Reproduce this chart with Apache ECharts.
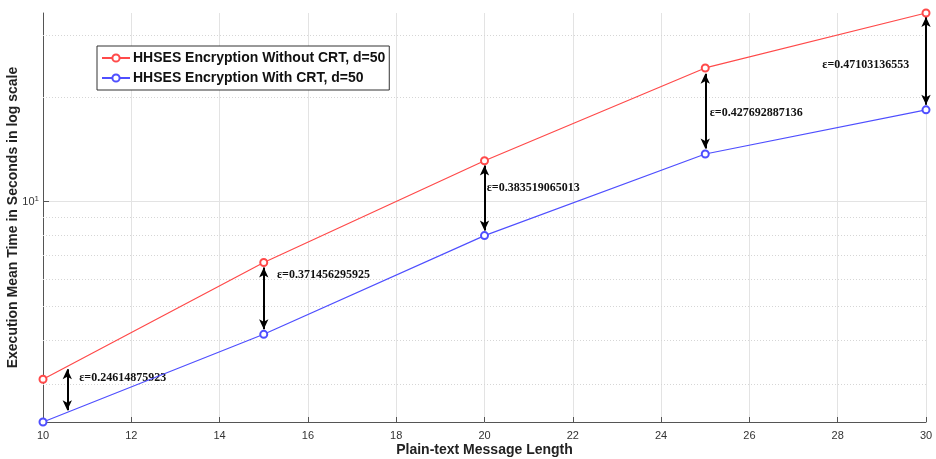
<!DOCTYPE html>
<html>
<head>
<meta charset="utf-8">
<script src="https://cdn.jsdelivr.net/npm/echarts@6/dist/echarts.min.js"></script>
<style>
	html, body { margin: 0; padding: 0; background: #fff; }
	#chart { width: 936px; height: 459px; }
</style>
</head>
<body>
<div id="chart"></div>
<script>
// message lengths
const lengths = [10, 15, 20, 25, 30];
// mean time (s)
const withoutCrt = [3.09, 6.69, 13.1, 24.2, 34.8];
const withCrt = [2.33, 4.16, 7.99, 13.7, 18.35];

// double arrows between the curves
const arrowX = [10.55, 15, 20, 25, 30];
const arrowTop = [3.3, 6.47, 12.7, 23.3, 33.9];
const arrowBottom = [2.52, 4.3, 8.26, 14.2, 18.96];

// epsilon labels
const epsText = ['ε=0.24614875923', 'ε=0.371456295925', 'ε=0.383519065013', 'ε=0.427692887136', 'ε=0.47103136553'];
const epsX = [10.82, 15.3, 20.05, 25.1, 29.62];
const epsY = [3.11, 6.18, 10.97, 18.0, 24.7];

// minor grid lines of the log axis
const minorY = [3, 4, 5, 6, 7, 8, 9, 20, 30];

const chart = echarts.init(document.getElementById('chart'));

const pair = (xs, ys) => xs.map((x, i) => [x, ys[i]]);

const option = {
	animation: false,
	backgroundColor: '#fff',
	textStyle: { fontFamily: 'Liberation Sans, Arial, sans-serif' },
	grid: { left: 43, right: 10, top: 13, bottom: 37, outerBoundsMode: 'none', containLabel: false },
	legend: {
		data: ['HHSES Encryption Without CRT, d=50', 'HHSES Encryption With CRT, d=50'],
		orient: 'vertical',
		left: 97,
		top: 46,
		padding: [5, 4, 5, 4],
		itemGap: 6,
		itemWidth: 28,
		itemHeight: 9,
		borderColor: '#333',
		borderWidth: 1,
		backgroundColor: '#fff',
		textStyle: { fontSize: 14, fontWeight: 'bold', color: '#111', padding: [0, 0, 0, -2] },
	},
	xAxis: {
		type: 'value',
		min: 10,
		max: 30,
		interval: 2,
		name: 'Plain-text Message Length',
		nameLocation: 'middle',
		nameGap: 21,
		nameMoveOverlap: false,
		nameTextStyle: { fontSize: 14, fontWeight: 'bold', color: '#222' },
		axisLine: { lineStyle: { color: '#555' } },
		axisTick: { inside: true, length: 5, lineStyle: { color: '#555' } },
		axisLabel: { fontSize: 11, color: '#333', margin: 8 },
		splitLine: { show: true, lineStyle: { color: '#e3e3e3', width: 1 } },
	},
	yAxis: {
		type: 'log',
		logBase: 10,
		min: 2.33,
		max: 34.8,
		name: 'Execution Mean Time in Seconds in log scale',
		nameLocation: 'middle',
		nameGap: 23,
		nameMoveOverlap: false,
		nameTextStyle: { fontSize: 14, fontWeight: 'bold', color: '#222' },
		axisLine: { show: true, lineStyle: { color: '#555' } },
		axisTick: { inside: true, length: 6, lineStyle: { color: '#555' } },
		axisLabel: {
			showMinLabel: false,
			showMaxLabel: false,
			margin: 4,
			formatter: (v) => (Math.abs(v - 10) < 1e-6 ? '{b|10}{s|1}' : ''),
			rich: {
				b: { fontSize: 11, color: '#333' },
				s: { fontSize: 8, color: '#333', verticalAlign: 'top', padding: [0, 0, 6, 0] },
			},
		},
		splitLine: { show: true, showMinLine: false, showMaxLine: false, lineStyle: { color: '#e3e3e3' } },
	},
	series: [
		{
			name: 'HHSES Encryption Without CRT, d=50',
			type: 'line',
			data: pair(lengths, withoutCrt),
			symbol: 'emptyCircle',
			symbolSize: 7,
			color: '#ff4a4a',
			lineStyle: { width: 1.2, color: '#ff4a4a' },
			itemStyle: { color: '#ff4a4a', borderWidth: 1 },
			z: 5,
		},
		{
			name: 'HHSES Encryption With CRT, d=50',
			type: 'line',
			data: pair(lengths, withCrt),
			symbol: 'emptyCircle',
			symbolSize: 7,
			color: '#4f4fff',
			lineStyle: { width: 1.2, color: '#4f4fff' },
			itemStyle: { color: '#4f4fff', borderWidth: 1 },
			z: 5,
		},
		{
			// dotted minor gridlines
			name: 'annot',
			type: 'line',
			data: [],
			silent: true,
			markLine: {
				silent: true,
				symbol: 'none',
				label: { show: false },
				lineStyle: { color: '#d6d6d6', type: [1, 2], width: 1 },
				data: minorY.map((v) => ({ yAxis: v })),
			},
		},
		{
			name: 'arrows',
			type: 'line',
			data: [],
			silent: true,
			z: 6,
			markLine: {
				silent: true,
				symbol: ['arrow', 'arrow'],
				symbolSize: [7, 10],
				label: { show: false },
				lineStyle: { color: '#000', type: 'solid', width: 2 },
				itemStyle: { color: '#000' },
				data: arrowX.map((x, i) => [{ coord: [x, arrowTop[i]] }, { coord: [x, arrowBottom[i]] }]),
			},
			markPoint: {
				silent: true,
				symbol: 'circle',
				symbolSize: 0,
				label: {
					show: true,
					fontFamily: 'Liberation Serif, Times New Roman, serif',
					fontWeight: 'bold',
					fontSize: 12,
					color: '#111',
					formatter: (p) => p.name,
				},
				data: epsText.map((t, i) => ({
					name: t,
					coord: [epsX[i], epsY[i]],
					label: { position: i === 4 ? 'left' : 'right', distance: 0 },
				})),
			},
		},
	],
};

chart.setOption(option);
</script>
</body>
</html>
